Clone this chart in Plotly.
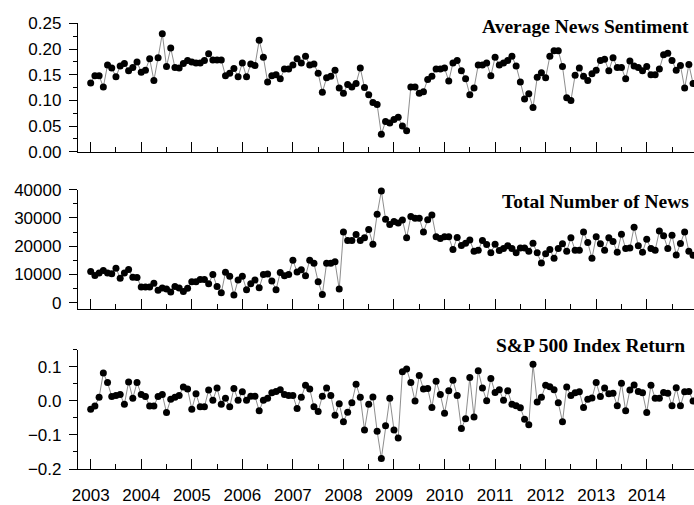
import plotly.graph_objects as go
from plotly.subplots import make_subplots

start_year = 2003
n_months = 144
months = [start_year + i / 12 for i in range(n_months)]

sentiment = [
    0.134, 0.148, 0.148, 0.126, 0.169, 0.163, 0.146, 0.167, 0.172, 0.158, 0.164, 0.175,
    0.155, 0.159, 0.181, 0.139, 0.183, 0.230, 0.166, 0.202, 0.164, 0.163, 0.172, 0.178,
    0.175, 0.173, 0.173, 0.178, 0.191, 0.179, 0.179, 0.179, 0.148, 0.153, 0.162, 0.146,
    0.173, 0.146, 0.171, 0.168, 0.217, 0.184, 0.136, 0.148, 0.150, 0.142, 0.161, 0.161,
    0.169, 0.181, 0.173, 0.186, 0.169, 0.171, 0.153, 0.116, 0.144, 0.147, 0.159, 0.124,
    0.114, 0.131, 0.126, 0.133, 0.163, 0.125, 0.111, 0.096, 0.092, 0.034, 0.059, 0.056,
    0.063, 0.067, 0.050, 0.041, 0.126, 0.126, 0.114, 0.117, 0.141, 0.147, 0.161, 0.161,
    0.163, 0.138, 0.173, 0.178, 0.158, 0.142, 0.111, 0.124, 0.169, 0.169, 0.173, 0.148,
    0.184, 0.169, 0.173, 0.178, 0.186, 0.167, 0.136, 0.103, 0.113, 0.086, 0.145, 0.154,
    0.144, 0.186, 0.197, 0.197, 0.166, 0.105, 0.100, 0.149, 0.163, 0.147, 0.139, 0.152,
    0.159, 0.178, 0.180, 0.158, 0.183, 0.164, 0.164, 0.142, 0.177, 0.167, 0.164, 0.158,
    0.166, 0.150, 0.150, 0.161, 0.189, 0.192, 0.178, 0.159, 0.168, 0.124, 0.170, 0.133,
]

news_count = [
    11100, 9630, 10540, 11440, 10540, 10310, 12240, 8720, 10540, 11780, 9060, 8950,
    5550, 5550, 5550, 6910, 4420, 5210, 4870, 3850, 5780, 5210, 3970, 5100,
    7480, 7480, 8270, 8270, 6690, 9970, 5780, 3510, 10760, 9400, 2720, 8040,
    9400, 4650, 6690, 8040, 5330, 9970, 10200, 7700, 4650, 10700, 9520, 9970,
    15070, 10880, 11670, 9520, 15070, 13940, 7480, 2950, 13940, 13940, 14500, 4870,
    25040, 21980, 21980, 24130, 21980, 23000, 25950, 20730, 31270, 39540, 29570, 27640,
    28780, 28210, 29230, 23000, 30480, 29910, 29910, 25040, 29340, 31040, 23340, 22770,
    23340, 23340, 18810, 23110, 20280, 21070, 22210, 18240, 18580, 21980, 20620, 17680,
    20730, 18470, 19150, 20170, 19150, 17680, 19380, 19380, 18240, 21070, 17680, 14050,
    17340, 18810, 15750, 19150, 20850, 18240, 23000, 18580, 18580, 25040, 21300, 15750,
    23340, 20850, 18580, 23000, 21640, 17900, 24250, 19150, 19380, 26740, 20170, 17900,
    22430, 19150, 18580, 25380, 23680, 19150, 23910, 16880, 20960, 25040, 18240, 16770,
]

sp500_return = [
    -0.024, -0.015, 0.011, 0.082, 0.054, 0.013, 0.016, 0.019, -0.010, 0.056, 0.008, 0.054,
    0.019, 0.013, -0.015, -0.015, 0.013, 0.019, -0.034, 0.005, 0.011, 0.016, 0.041, 0.035,
    -0.024, 0.021, -0.017, -0.017, 0.032, 0.002, 0.038, -0.010, 0.008, -0.017, 0.037, 0.002,
    0.027, 0.002, 0.014, 0.014, -0.029, 0.002, 0.008, 0.024, 0.028, 0.033, 0.019, 0.016,
    0.016, -0.022, 0.011, 0.046, 0.035, -0.017, -0.031, 0.014, 0.038, 0.016, -0.042, -0.008,
    -0.061, -0.033, -0.005, 0.049, 0.011, -0.085, -0.010, 0.012, -0.089, -0.169, -0.073, 0.008,
    -0.085, -0.109, 0.086, 0.094, 0.054, 0.000, 0.075, 0.035, 0.037, -0.019, 0.058, 0.019,
    -0.036, 0.030, 0.061, 0.016, -0.081, -0.052, 0.069, -0.047, 0.089, 0.038, 0.001, 0.066,
    0.025, 0.033, 0.002, 0.030, -0.010, -0.014, -0.020, -0.054, -0.070, 0.108, -0.003, 0.011,
    0.046, 0.042, 0.033, -0.005, -0.061, 0.041, 0.016, 0.024, 0.027, -0.019, 0.005, 0.009,
    0.054, 0.013, 0.038, 0.021, 0.023, -0.014, 0.052, -0.029, 0.032, 0.047, 0.028, 0.024,
    -0.034, 0.046, 0.008, 0.008, 0.025, 0.023, -0.014, 0.039, -0.014, 0.027, 0.028, 0.000,
]

panel_titles = ["Average News Sentiment", "Total Number of News", "S&P 500 Index Return"]
year_ticks = list(range(2003, 2015))

fig = make_subplots(rows=3, cols=1, shared_xaxes=False)

series = [sentiment, news_count, sp500_return]
for r, vals in enumerate(series, start=1):
    fig.add_trace(
        go.Scatter(
            x=months, y=vals, mode="lines+markers",
            line=dict(color="#707070", width=0.8),
            marker=dict(color="black", size=7, line=dict(width=0)),
            cliponaxis=False, showlegend=False,
        ),
        row=r, col=1,
    )

tick_font = dict(family="Liberation Sans, Arial, sans-serif", size=17, color="black")

x_common = dict(
    range=[2002.749, 2014.935], tickmode="array", tickvals=year_ticks,
    ticktext=[str(y) for y in year_ticks],
    ticks="inside", ticklen=10, tickwidth=1.2, tickcolor="black",
    minor=dict(tickvals=[y + 0.5 for y in range(2002, 2015)], ticks="inside",
               ticklen=5, tickwidth=1.2, tickcolor="black"),
    showline=True, linecolor="black", linewidth=1.3, showgrid=False, zeroline=False,
    tickfont=tick_font,
)
y_common = dict(
    ticks="outside", ticklen=8, tickwidth=1.2, tickcolor="black",
    showline=True, linecolor="black", linewidth=1.3, showgrid=False, zeroline=False,
    tickfont=tick_font, ticklabelstandoff=4,
)

domains = [[0.6897, 0.9686], [0.3479, 0.6073], [0.0, 0.2588]]

fig.update_xaxes(**x_common)
fig.update_xaxes(showticklabels=False, row=1, col=1)
fig.update_xaxes(showticklabels=False, row=2, col=1)
fig.update_xaxes(ticklabelstandoff=10, row=3, col=1)
fig.update_yaxes(**y_common)

fig.update_yaxes(domain=domains[0], range=[0, 0.25], tickmode="linear", tick0=0, dtick=0.05,
                 tickformat=".2f",
                 minor=dict(dtick=0.025, tick0=0, ticks="outside", ticklen=4, tickwidth=1.2,
                            tickcolor="black"),
                 row=1, col=1)
fig.update_yaxes(domain=domains[1], range=[-2180, 40000], tickmode="linear", tick0=0,
                 dtick=10000, tickformat="d",
                 minor=dict(dtick=5000, tick0=0, ticks="outside", ticklen=4, tickwidth=1.2,
                            tickcolor="black"),
                 row=2, col=1)
fig.update_yaxes(domain=domains[2], range=[-0.2, 0.15], tickmode="linear", tick0=-0.2,
                 dtick=0.1, tickformat=".1f",
                 minor=dict(dtick=0.05, tick0=-0.2, ticks="outside", ticklen=4, tickwidth=1.2,
                            tickcolor="black"),
                 row=3, col=1)

title_y = [0.9623, 0.5816, 0.2678]
title_x = [0.9946, 0.9946, 0.989]
for t, ty, tx in zip(panel_titles, title_y, title_x):
    fig.add_annotation(
        text="<b>%s</b>" % t, xref="paper", yref="paper", x=tx, y=ty,
        xanchor="right", yanchor="middle", showarrow=False,
        font=dict(family="Liberation Serif, Times New Roman, serif", size=19.5, color="black"),
    )

fig.update_layout(
    width=694, height=505,
    margin=dict(l=78, r=0, t=0, b=27),
    plot_bgcolor="white", paper_bgcolor="white",
)

fig.write_html(
    "out.html",
    config={"displayModeBar": False},
    post_script="document.body.style.margin='0';document.body.style.padding='0';"
                "document.body.style.overflow='hidden';",
)
